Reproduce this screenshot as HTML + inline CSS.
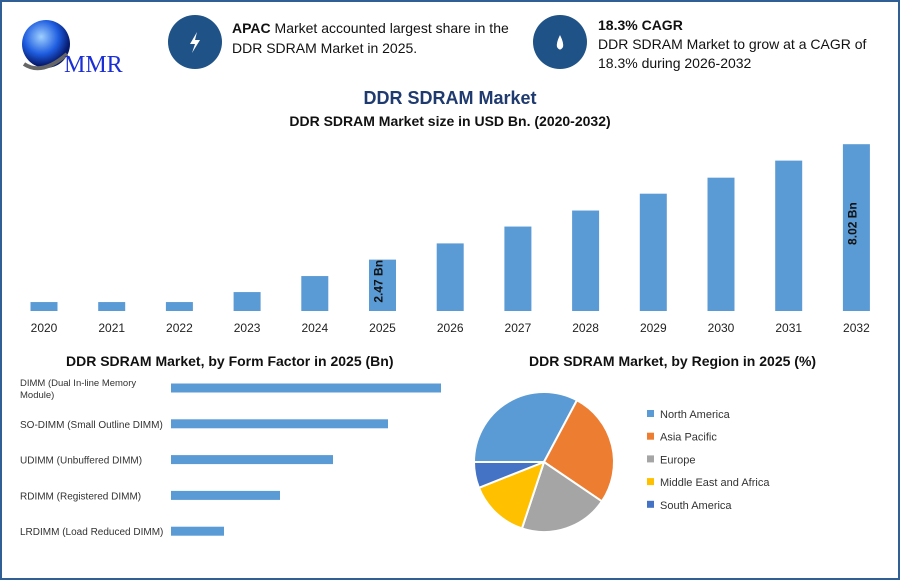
<!DOCTYPE html>
<html><head><meta charset="utf-8"><style>
body{margin:0;background:#fff;font-family:"Liberation Sans",sans-serif}
#wrap{position:relative;width:896px;height:576px;border:2px solid #2f5f95;overflow:hidden;background:#fff}
.t{position:absolute;white-space:nowrap;color:#111}
.circ{position:absolute;width:54px;height:54px;border-radius:50%;background:#1f5287}
</style></head><body>
<div id="wrap">
<svg style="position:absolute;left:10px;top:12px" width="130" height="62">
<defs><radialGradient id="g" cx="40%" cy="35%" r="60%"><stop offset="0" stop-color="#9fd0ff"/><stop offset="0.6" stop-color="#1e5de0"/><stop offset="1" stop-color="#06186a"/></radialGradient></defs>
<circle cx="34" cy="30" r="24" fill="url(#g)"/>
<path d="M12 50 Q30 62 55 40" stroke="#666" stroke-width="4" fill="none"/>
<text x="52" y="58" font-family="Liberation Serif" font-size="24" fill="#1b2fd6">MMR</text>
</svg>
<div class="circ" style="left:166px;top:13px"><svg width="54" height="54"><path d="M29 17 L22 29 H27 L24 38 L32 25 H27 Z" fill="#fff"/></svg></div>
<div class="t" style="left:230px;top:16px;font-size:14px;line-height:20px"><b>APAC</b> Market accounted largest share in the<br>DDR SDRAM Market in 2025.</div>
<div class="circ" style="left:531px;top:13px"><svg width="54" height="54"><path d="M27 20 Q23 28 24 32 Q27 37 30 32 Q31 28 27 20Z" fill="#fff"/></svg></div>
<div class="t" style="left:596px;top:14px;font-size:14px;line-height:19px"><b>18.3% CAGR</b><br>DDR SDRAM Market to grow at a CAGR of<br>18.3% during 2026-2032</div>
<div class="t" style="left:0;width:896px;text-align:center;top:86px;font-size:18px;font-weight:bold;color:#1f3a6e">DDR SDRAM Market</div>
<div class="t" style="left:0;width:896px;text-align:center;top:111px;font-size:14px;font-weight:bold">DDR SDRAM Market size in USD Bn. (2020-2032)</div>
<svg id="bar" style="position:absolute;left:0;top:0" width="896" height="576"></svg>
<div class="t" style="left:64px;top:351px;font-size:14px;font-weight:bold">DDR SDRAM Market, by Form Factor in 2025 (Bn)</div>
<div class="t" style="left:527px;top:351px;font-size:14px;font-weight:bold">DDR SDRAM Market, by Region in 2025 (%)</div>
</div>
<script>
const years=["2020","2021","2022","2023","2024","2025","2026","2027","2028","2029","2030","2031","2032"];
const sizes=[0.43,0.43,0.43,0.91,1.68,2.47,3.25,4.06,4.83,5.64,6.41,7.23,8.02];
const sizeLabels={5:"2.47 Bn",12:"8.02 Bn"};
const forms=["DIMM (Dual In-line Memory|Module)","SO-DIMM (Small Outline DIMM)","UDIMM (Unbuffered DIMM)","RDIMM (Registered DIMM)","LRDIMM (Load Reduced DIMM)"];
const formVals=[2.70,2.17,1.62,1.09,0.53];
const regions=["North America","Asia Pacific","Europe","Middle East and Africa","South America"];
const regionVals=[32.8,26.7,20.6,13.9,6.0];
const colors=["#5b9bd5","#ed7d31","#a5a5a5","#ffc000","#4472c4"];
const NS="http://www.w3.org/2000/svg";
const svg=document.getElementById('bar');
function el(t,a,txt){const e=document.createElementNS(NS,t);for(const k in a)e.setAttribute(k,a[k]);if(txt!=null)e.textContent=txt;svg.appendChild(e);return e;}
const base=309, ppu=20.8;
const xC=i=>42+i*67.7, yV=v=>base-v*ppu;
years.forEach((y,i)=>{
 const r=el('rect',{x:xC(i)-13.5,y:yV(sizes[i]),width:27,height:sizes[i]*ppu,fill:"#5b9bd5"});
 
 
 const t=el('text',{x:xC(i),y:330,'text-anchor':'middle','font-size':12,fill:'#222','font-family':'Liberation Sans'},y);
 
 
 if(sizeLabels[i]){const cy=yV(sizes[i])+sizes[i]*ppu/2;
  const l=el('text',{x:xC(i)+4,y:cy,'text-anchor':'middle','font-size':12,'font-weight':'bold',fill:'#111','font-family':'Liberation Sans',transform:`rotate(-90 ${xC(i)} ${cy})`},sizeLabels[i]);
  
  }
});
const hx=169, hp=100;
forms.forEach((f,i)=>{
 const yc=386+i*35.8;
 const r=el('rect',{x:hx,y:yc-4.5,width:formVals[i]*hp,height:9,fill:"#5b9bd5"});
 
 
 const parts=f.split('|');
 parts.forEach((p,j)=>{const t=el('text',{x:18,y:yc+4+(parts.length>1?(j*12-6):0),'font-size':parts.length>1?9.5:10,fill:'#333','font-family':'Liberation Sans'},p);
  
  });
});
const cx=542,cy=460,R=70;let ang=-90;const tot=regionVals.reduce((a,b)=>a+b,0);
regionVals.forEach((v,i)=>{
 const a0=(ang)*Math.PI/180, a1=(ang+v/tot*360)*Math.PI/180;
 const d=`M${cx} ${cy} L${cx+R*Math.sin(a0)} ${cy-R*Math.cos(a0)} A${R} ${R} 0 ${v/tot>0.5?1:0} 1 ${cx+R*Math.sin(a1)} ${cy-R*Math.cos(a1)} Z`;
 const p=el('path',{d,fill:colors[i],stroke:'#fff','stroke-width':2});
 
 
 ang+=v/tot*360;
 const ly=413+i*22.7;
 const s=el('rect',{x:645,y:ly-5,width:7,height:7,fill:colors[i]});
 
 
 const t=el('text',{x:658,y:ly+3,'font-size':11,fill:'#333','font-family':'Liberation Sans'},regions[i]);
 
 
});
</script>
</body></html>
